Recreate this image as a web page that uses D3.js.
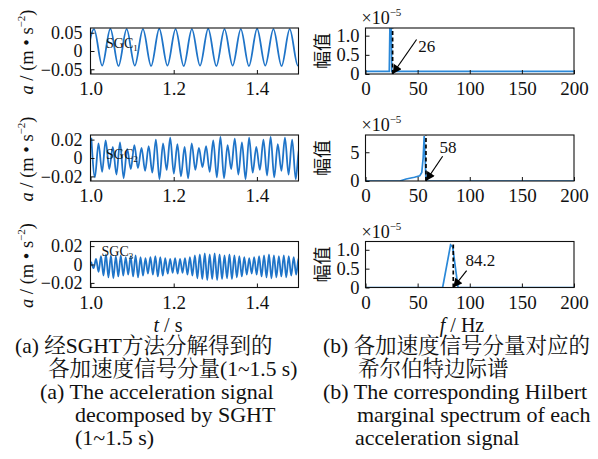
<!DOCTYPE html>
<html><head><meta charset="utf-8">
<script src="https://cdn.jsdelivr.net/npm/d3@7"></script>
<style>
html,body{margin:0;padding:0;background:#fff;}
svg{display:block;}
</style></head>
<body>
<script>
// ---------------- DATA ----------------
// time-domain components: extremum values sampled every half period
const sgcNames = ["1", "2", "3"];
const sgcStart = [0.9889, 1.0020, 1.0015];
const sgcStep = [0.0196, 0.00862, 0.005938];
const sgc1 = [-0.040,0.060,-0.040,0.061,-0.041,0.060,-0.040,0.060,-0.041,0.061,-0.040,0.060,-0.041,0.060,
  -0.040,0.061,-0.041,0.060,-0.040,0.060,-0.041,0.061,-0.040,0.060,-0.041,0.060,-0.040,0.060];
const sgc2 = [0.022,-0.021,0.016,-0.015,0.019,-0.012,0.012,-0.018,0.017,-0.022,0.010,-0.012,0.014,-0.011,
  0.011,-0.014,0.013,-0.016,0.020,-0.023,0.016,-0.013,0.022,-0.017,0.015,-0.020,0.012,-0.022,0.016,-0.013,
  0.011,-0.010,0.013,-0.015,0.019,-0.021,0.023,-0.022,0.014,-0.012,0.021,-0.018,0.017,-0.023,0.022,-0.016,
  0.012,-0.013,0.020,-0.019,0.023,-0.021,0.015,-0.014,0.022,-0.018,0.020,-0.023,0.012,-0.010];
const sgc3 = [0.003,-0.004,0.006,-0.008,0.009,-0.012,0.011,-0.014,0.010,-0.015,0.009,-0.013,0.010,-0.012,
  0.008,-0.011,0.009,-0.013,0.010,-0.014,0.008,-0.012,0.007,-0.010,0.008,-0.011,0.009,-0.013,0.008,-0.012,
  0.007,-0.010,0.006,-0.009,0.007,-0.010,0.006,-0.009,0.007,-0.011,0.008,-0.012,0.010,-0.015,0.011,-0.016,
  0.012,-0.017,0.011,-0.016,0.012,-0.017,0.011,-0.016,0.010,-0.015,0.011,-0.016,0.010,-0.014,0.009,-0.013,
  0.008,-0.011,0.007,-0.010,0.008,-0.011,0.009,-0.013,0.010,-0.014,0.011,-0.015,0.010,-0.014,0.009,-0.013,
  0.010,-0.014,0.009,-0.012,0.008,-0.011,0.007,-0.010];
const sgcValues = [sgc1, sgc2, sgc3];
const sgcYMax = [0.063, 0.025, 0.025];
const sgcYTicks = [[-0.05,0,0.05],[-0.02,0,0.02],[-0.02,0,0.02]];
const sgcYTickLabels = [["\u22120.05","0","0.05"],["\u22120.02","0","0.02"],["\u22120.02","0","0.02"]];
const timeTicks = [1.0, 1.2, 1.4];
const timeTickLabels = ["1.0", "1.2", "1.4"];

// marginal spectra (amplitude ×10^-5)
const spec1F = [0, 22.8, 23.5, 24.6, 25.2, 200];
const spec1A = [0.07, 0.07, 1.4, 1.4, 0.07, 0.07];
const spec2F = [0, 33, 39, 47, 52, 54, 55.3, 56.3, 57.2, 58, 200];
const spec2A = [0, 0, 0.35, 0.65, 0.9, 1.5, 4.0, 7.8, 4.0, 0, 0];
const spec3F = [0, 74, 81.6, 83.6, 88.8, 200];
const spec3A = [0, 0, 1.13, 1.08, 0, 0];
const specF = [spec1F, spec2F, spec3F];
const specA = [spec1A, spec2A, spec3A];
const specYMax = [1.2, 8, 1.22];
const specYTicks = [[0,0.5,1.0],[0,5],[0,0.5,1.0]];
const specYTickLabels = [["0","0.5","1.0"],["0","5"],["0","0.5","1.0"]];
const freqTicks = [0, 50, 100, 150, 200];
const peakFreq = [26, 58, 84.2];
const peakLabel = ["26", "58", "84.2"];
const peakLineTop = [1.2, 8, 1.15];
const arrowTailF = [49, 74, 97];
const arrowTailA = [0.9, 4.3, 0.45];
const labelF = [50.5, 71, 96];
const labelA = [0.57, 4.9, 0.58];

const captionA = ["(a) 经SGHT方法分解得到的", "各加速度信号分量(1~1.5 s)", "(a) The acceleration signal", "decomposed by SGHT", "(1~1.5 s)"];
const captionB = ["(b) 各加速度信号分量对应的", "希尔伯特边际谱", "(b) The corresponding Hilbert", "marginal spectrum of each", "acceleration signal"];

// ---------------- LAYOUT ----------------
const W = 598, H = 459;
const rowTop = [28, 135, 241.5], rowH = 46;
const LX0 = 90.5, LX1 = 298.5, RX0 = 365.5, RX1 = 574;
const serif = "'Liberation Serif','Times New Roman',serif";
const cjk = "'Liberation Serif','Noto Serif CJK SC','Noto Sans CJK SC',serif";
const sigColor = "#1f74c8", specColor = "#2a88d8";

const svg = d3.select("body").append("svg").attr("width", W).attr("height", H)
  .style("font-family", serif);
const defs = svg.append("defs");
defs.append("marker").attr("id","arr").attr("viewBox","0 0 10 10").attr("refX",10).attr("refY",5)
  .attr("markerWidth",10).attr("markerHeight",9).attr("markerUnits","userSpaceOnUse").attr("orient","auto")
  .append("path").attr("d","M0,0L10,5L0,10z").attr("fill","#000");

function styleAxis(g, size) {
  g.select(".domain").remove();
  g.selectAll(".tick line").attr("stroke", "#111").attr("stroke-width", 1);
  g.selectAll(".tick text").attr("fill", "#111").style("font-size", size + "px").style("font-family", serif);
}

for (let i = 0; i < 3; i++) {
  const top = rowTop[i], bot = top + rowH;
  // ---------- left: time signals ----------
  const x = d3.scaleLinear().domain([1.0, 1.5]).range([LX0, LX1]);
  const y = d3.scaleLinear().domain([-sgcYMax[i], sgcYMax[i]]).range([bot, top]);
  const cid = "clipL" + i;
  defs.append("clipPath").attr("id", cid).append("rect")
    .attr("x", LX0).attr("y", top).attr("width", LX1 - LX0).attr("height", rowH);
  const pts = sgcValues[i].map((v, k) => [sgcStart[i] + k * sgcStep[i], v]);
  const line = d3.line().x(d => x(d[0])).y(d => y(d[1])).curve(d3.curveMonotoneX);
  svg.append("path").attr("d", line(pts)).attr("clip-path", `url(#${cid})`)
    .attr("fill", "none").attr("stroke", sigColor).attr("stroke-width", 1.8);

  const gx = svg.append("g").attr("transform", `translate(0,${bot})`)
    .call(d3.axisBottom(x).tickValues(timeTicks).tickSize(-4).tickPadding(8)
      .tickFormat((d, k) => timeTickLabels[k]));
  styleAxis(gx, 19);
  const gy = svg.append("g").attr("transform", `translate(${LX0},0)`)
    .call(d3.axisLeft(y).tickValues(sgcYTicks[i]).tickSize(-4).tickPadding(8)
      .tickFormat((d, k) => sgcYTickLabels[i][k]));
  styleAxis(gy, 18);
  svg.append("rect").attr("x", LX0).attr("y", top).attr("width", LX1 - LX0).attr("height", rowH)
    .attr("fill", "none").attr("stroke", "#111").attr("stroke-width", 1.1);

  const sgcX = [106, 106, 101.5][i];
  const sgcT = svg.append("text").attr("x", sgcX).attr("y", [48, 159, 256][i])
    .style("font-size", "14px").attr("fill", "#111");
  sgcT.append("tspan").text("SGC");
  sgcT.append("tspan").text(sgcNames[i]).style("font-size", "9px").attr("dy", 3);

  // y label
  const yl = svg.append("text").attr("transform", `translate(33,${top + rowH / 2 + 1}) rotate(-90)`)
    .attr("text-anchor", "middle").style("font-size", "18.5px").attr("fill", "#111");
  yl.append("tspan").text("a").style("font-style", "italic");
  yl.append("tspan").text(" / (m • s");
  yl.append("tspan").text("\u22122").style("font-size", "11px").attr("dy", -8);
  yl.append("tspan").text(")").attr("dy", 8);

  // ---------- right: spectra ----------
  const fx = d3.scaleLinear().domain([0, 200]).range([RX0, RX1]);
  const fy = d3.scaleLinear().domain([0, specYMax[i]]).range([bot, top]);
  const cid2 = "clipR" + i;
  defs.append("clipPath").attr("id", cid2).append("rect")
    .attr("x", RX0).attr("y", top).attr("width", RX1 - RX0).attr("height", rowH);
  const sp = specF[i].map((f, k) => [f, specA[i][k]]);
  const sline = d3.line().x(d => fx(d[0])).y(d => fy(d[1]));
  svg.append("path").attr("d", sline(sp)).attr("clip-path", `url(#${cid2})`)
    .attr("fill", "none").attr("stroke", specColor).attr("stroke-width", 1.7);
  svg.append("line").attr("x1", fx(peakFreq[i])).attr("x2", fx(peakFreq[i]))
    .attr("y1", fy(0)).attr("y2", fy(peakLineTop[i])).attr("clip-path", `url(#${cid2})`)
    .attr("stroke", "#000").attr("stroke-width", 1.7).attr("stroke-dasharray", "4,2.5");

  const gfx = svg.append("g").attr("transform", `translate(0,${bot})`)
    .call(d3.axisBottom(fx).tickValues(freqTicks).tickSize(-4).tickPadding(8));
  styleAxis(gfx, 19);
  const gfy = svg.append("g").attr("transform", `translate(${RX0},0)`)
    .call(d3.axisLeft(fy).tickValues(specYTicks[i]).tickSize(-4).tickPadding(6)
      .tickFormat((d, k) => specYTickLabels[i][k]));
  styleAxis(gfy, 18.5);
  svg.append("rect").attr("x", RX0).attr("y", top).attr("width", RX1 - RX0).attr("height", rowH)
    .attr("fill", "none").attr("stroke", "#111").attr("stroke-width", 1.1);

  // exponent label
  const ex = svg.append("text").attr("x", RX0 - 4).attr("y", top - 4)
    .style("font-size", "18px").attr("fill", "#111");
  ex.append("tspan").text("×10");
  ex.append("tspan").text("\u22125").style("font-size", "11px").attr("dy", -8);

  // y label
  svg.append("text").attr("transform", `translate(329,${top + rowH / 2}) rotate(-90)`)
    .attr("text-anchor", "middle").style("font-size", "18px")
    .style("font-family", "'Noto Sans CJK SC',sans-serif").attr("fill", "#111").text("幅值");

  // annotation arrow + text
  svg.append("line").attr("x1", fx(arrowTailF[i])).attr("y1", fy(arrowTailA[i]))
    .attr("x2", fx(peakFreq[i])).attr("y2", fy(0))
    .attr("stroke", "#000").attr("stroke-width", 1.2).attr("marker-end", "url(#arr)");
  svg.append("text").attr("x", fx(labelF[i])).attr("y", fy(labelA[i]))
    .style("font-size", "17px").attr("fill", "#111").text(peakLabel[i]);
}

// axis titles
const tl = svg.append("text").attr("x", 168).attr("y", 332).attr("text-anchor", "middle")
  .style("font-size", "20px").attr("fill", "#111");
tl.append("tspan").text("t").style("font-style", "italic");
tl.append("tspan").text(" / s");
const fl = svg.append("text").attr("x", 462).attr("y", 332).attr("text-anchor", "middle")
  .style("font-size", "20px").attr("fill", "#111");
fl.append("tspan").text("f").style("font-style", "italic");
fl.append("tspan").text(" / Hz");

// captions
const capY = [353, 376, 399, 422, 445];
const capSize = [21.5, 21.5, 22, 22, 22];
const capAX = [15, 48, 40, 75, 75];
const capBX = [323, 358, 323, 357, 355];
captionA.forEach((t, k) => svg.append("text").attr("x", capAX[k]).attr("y", capY[k])
  .style("font-size", capSize[k] + "px").style("font-family", cjk).attr("fill", "#111").text(t));
captionB.forEach((t, k) => svg.append("text").attr("x", capBX[k]).attr("y", capY[k])
  .style("font-size", capSize[k] + "px").style("font-family", cjk).attr("fill", "#111").text(t));
</script>
</body></html>
